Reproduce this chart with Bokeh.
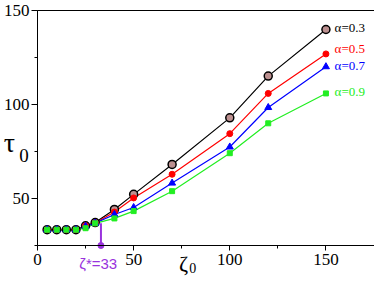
from bokeh.plotting import figure
from bokeh.models import Range1d, SingleIntervalTicker, FixedTicker, Label, LinearAxis
from bokeh.embed import file_html
from bokeh.resources import INLINE

zeta = [5, 10, 15, 20, 25, 30, 40, 50, 70, 100, 120, 150]
tau_03 = [33.4, 33.4, 33.4, 33.4, 35.5, 37.2, 44.2, 52.2, 68.1, 92.9, 115.1, 139.9]
tau_05 = [33.4, 33.4, 33.4, 33.4, 35.5, 37.0, 42.8, 50.3, 62.9, 84.5, 105.9, 126.9]
tau_07 = [33.4, 33.4, 33.4, 33.4, 35.2, 36.9, 41.5, 45.2, 58.2, 77.4, 98.4, 120.1]
tau_09 = [33.4, 33.4, 33.4, 33.4, 34.2, 36.8, 39.4, 43.3, 53.9, 74.1, 90.0, 105.9]
series_labels = ["\u03b1=0.3", "\u03b1=0.5", "\u03b1=0.7", "\u03b1=0.9"]
label_y = [141.0, 130.0, 120.6, 107.0]
zeta_star = 33
zeta_star_tau = 36.8
X_MIN, X_MAX = 0, 175
Y_MIN, Y_MAX = 25, 150

SERIF = "Liberation Serif"
SANS = "Liberation Sans"

p = figure(width=374, height=277, output_backend="svg", toolbar_location=None,
           x_range=Range1d(-19.24, 175.26), y_range=Range1d(7.98, 155.32),
           min_border=0, min_border_left=0, min_border_right=0,
           min_border_top=0, min_border_bottom=0)
p.background_fill_color = "white"
p.border_fill_color = "white"
p.outline_line_color = None
p.xgrid.visible = False
p.ygrid.visible = False

xa = p.xaxis[0]
ya = p.yaxis[0]
xa.fixed_location = Y_MIN
xa.bounds = (X_MIN, X_MAX)
ya.fixed_location = X_MIN
ya.bounds = (Y_MIN, Y_MAX)
xa.ticker = SingleIntervalTicker(interval=50, num_minor_ticks=2)
ya.ticker = SingleIntervalTicker(interval=50, num_minor_ticks=2)
for ax in (xa, ya):
    ax.major_label_text_font = SERIF
    ax.major_label_text_font_size = "17px"
    ax.major_label_text_color = "black"
    ax.axis_line_color = "black"
    ax.major_tick_in = 0
    ax.minor_tick_in = 0
    ax.minor_tick_out = 3
    ax.major_tick_line_color = "black"
    ax.minor_tick_line_color = "black"
xa.major_tick_out = 5
xa.major_label_standoff = 3
ya.major_tick_out = 6
ya.major_label_standoff = 2

top = LinearAxis(fixed_location=Y_MAX, bounds=(X_MIN, X_MAX), ticker=FixedTicker(ticks=[]),
                 major_tick_out=0, minor_tick_out=0, major_label_text_font_size="0px")
right = LinearAxis(fixed_location=X_MAX, bounds=(Y_MIN, Y_MAX), ticker=FixedTicker(ticks=[]),
                   major_tick_out=0, minor_tick_out=0, major_label_text_font_size="0px")
p.add_layout(top, "above")
p.add_layout(right, "right")

colors = ["black", "#ff0000", "#0000ff", "#22ee22"]
ys = [tau_03, tau_05, tau_07, tau_09]
for c, y in zip(colors, ys):
    p.line(zeta, y, line_color=c, line_width=1.2)

p.scatter(zeta, tau_03, marker="circle", size=8, fill_color="#bc9090", line_color="black", line_width=1.5)
p.scatter(zeta, tau_05, marker="circle", size=6, fill_color="#ff0000", line_color="#ff0000")
p.scatter(zeta, tau_07, marker="triangle", size=7, fill_color="#0000ff", line_color="#0000ff")
p.scatter(zeta, tau_09, marker="square", size=5, fill_color="#22ee22", line_color="#22ee22")

for t, yy, c in zip(series_labels, label_y, colors):
    p.add_layout(Label(x=154.5, y=yy, text=t, text_color=c, text_font=SERIF,
                       text_font_size="13px", text_baseline="middle", text_align="left"))

purple = "#9933dd"
p.segment(x0=[zeta_star], y0=[zeta_star_tau], x1=[zeta_star], y1=[Y_MIN], line_color=purple, line_width=2)
p.scatter([zeta_star], [Y_MIN], size=6, fill_color=purple, line_color=purple)
p.add_layout(Label(x=31.6, y=15.2, text="\u03b6*=33", text_color=purple, text_font=SANS,
                   text_font_size="15px", text_baseline="middle", text_align="center"))

# axis titles
p.add_layout(Label(x=-14.56, y=79.7, text="\u03c4", text_font=SERIF, text_font_size="28px",
                   text_baseline="alphabetic", text_align="center", text_color="black"))
p.add_layout(Label(x=-7.0, y=73.1, text="0", text_font=SERIF, text_font_size="19px",
                   text_baseline="alphabetic", text_align="center", text_color="black"))
p.add_layout(Label(x=76.0, y=15.6, text="\u03b6", text_font=SERIF, text_font_size="22px",
                   text_baseline="middle", text_align="center", text_color="black"))
p.add_layout(Label(x=80.8, y=12.8, text="0", text_font=SERIF, text_font_size="14px",
                   text_baseline="middle", text_align="center", text_color="black"))

open("out.html", "w").write(file_html(p, INLINE))
